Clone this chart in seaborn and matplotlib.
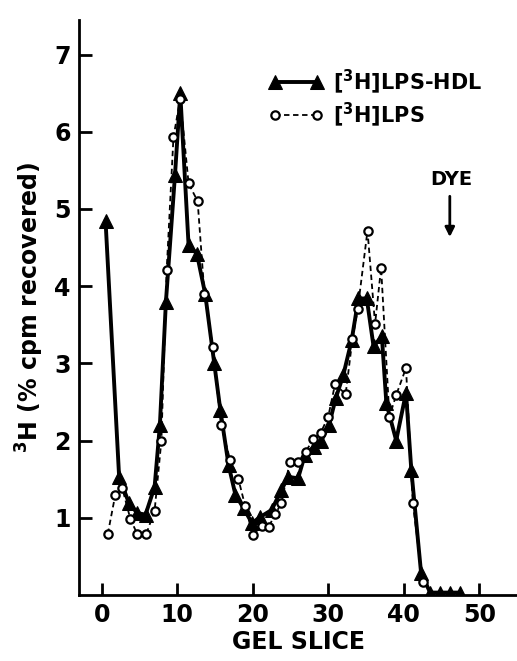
import matplotlib
matplotlib.use("Agg")
import matplotlib.pyplot as plt
import seaborn as sns
import pandas as pd

# [3H]LPS-HDL (filled triangles, solid line)
hdl_slice = [0.5, 2.3, 3.6, 4.7, 5.8, 7.0, 7.7, 8.5, 9.7, 10.4, 11.5, 12.6, 13.7, 14.9,
             15.7, 16.8, 17.7, 18.8, 19.9, 21.0, 22.5, 23.8, 24.7, 26.0, 26.9, 28.1,
             29.1, 30.1, 31.0, 32.0, 33.1, 34.0, 35.1, 36.0, 37.1, 37.7, 39.0, 40.3,
             41.0, 42.3, 43.5, 44.8, 46.1, 47.4]
hdl_pct = [4.85, 1.53, 1.19, 1.06, 1.04, 1.40, 2.20, 3.80, 5.44, 6.50, 4.53, 4.42, 3.90, 3.00,
           2.40, 1.68, 1.30, 1.12, 0.93, 1.01, 1.10, 1.36, 1.53, 1.51, 1.81, 1.92,
           2.00, 2.20, 2.55, 2.85, 3.30, 3.84, 3.84, 3.22, 3.35, 2.48, 2.00, 2.62,
           1.62, 0.28, 0.03, 0.03, 0.03, 0.03]

# [3H]LPS (open circles, dashed line)
lps_slice = [0.8, 1.8, 2.7, 3.8, 4.7, 5.9, 7.0, 7.9, 8.6, 9.5, 10.4, 11.5, 12.7, 13.6,
             14.7, 15.8, 17.0, 18.1, 19.0, 20.0, 21.2, 22.1, 23.0, 23.8, 24.9, 26.0,
             27.0, 28.0, 29.0, 30.0, 30.9, 32.3, 33.2, 33.9, 35.2, 36.2, 37.0, 38.1,
             39.0, 40.3, 41.2, 42.5]
lps_pct = [0.79, 1.30, 1.39, 0.98, 0.79, 0.79, 1.09, 2.00, 4.21, 5.93, 6.43, 5.33, 5.10, 3.90,
           3.21, 2.20, 1.75, 1.50, 1.15, 0.78, 0.89, 0.88, 1.05, 1.19, 1.72, 1.72,
           1.85, 2.02, 2.10, 2.31, 2.73, 2.60, 3.31, 3.70, 4.72, 3.51, 4.24, 2.31,
           2.59, 2.94, 1.19, 0.17]

x_ticks = [0, 10, 20, 30, 40, 50]
y_ticks = [1, 2, 3, 4, 5, 6, 7]

hdl = pd.DataFrame({"slice": hdl_slice, "pct": hdl_pct})
lps = pd.DataFrame({"slice": lps_slice, "pct": lps_pct})

sns.set_style("ticks")
plt.rcParams["font.family"] = ["DejaVu Sans"]
plt.rcParams["font.weight"] = "bold"
for key in ["text.color", "axes.labelcolor", "xtick.color", "ytick.color", "axes.edgecolor"]:
    plt.rcParams[key] = "black"

fig = plt.figure(figsize=(5.17, 6.61), dpi=100)
ax = fig.add_axes([0.153, 0.10, 0.847, 0.87])

sns.lineplot(data=lps, x="slice", y="pct", ax=ax, sort=False, estimator=None,
             color="black", linewidth=1.3, linestyle=(0, (3, 2)), marker="o",
             markersize=6, markerfacecolor="white", markeredgecolor="black",
             markeredgewidth=1.6, label="[$^{3}$H]LPS", zorder=3)
sns.lineplot(data=hdl, x="slice", y="pct", ax=ax, sort=False, estimator=None,
             color="black", linewidth=2.8, marker="^", markersize=9.5,
             markeredgecolor="black", label="[$^{3}$H]LPS-HDL", zorder=2)

ax.set_xlim(-3.0, 55.0)
ax.set_ylim(0, 7.45)
ax.set_xticks(x_ticks)
ax.set_yticks(y_ticks)
ax.tick_params(direction="in", length=9, width=2, labelsize=17, pad=6)
for s in ["top", "right"]:
    ax.spines[s].set_visible(False)
for s in ["left", "bottom"]:
    ax.spines[s].set_linewidth(2)

ax.set_xlabel("GEL SLICE", fontsize=17, fontweight="bold", labelpad=2)
ax.set_ylabel("$^{3}$H (% cpm recovered)", fontsize=17, fontweight="bold", labelpad=6)

# legend: triangles first, circles second
handles, labels = ax.get_legend_handles_labels()
leg = ax.legend(handles[::-1], labels[::-1], loc="upper left",
                bbox_to_anchor=(0.39, 0.95), frameon=False, numpoints=2,
                handlelength=2.6, handletextpad=0.5, labelspacing=0.2,
                prop={"size": 15, "weight": "bold"})

# dye front marker
ax.text(46.3, 5.38, "DYE", fontsize=14, fontweight="bold", ha="center", va="center")
ax.annotate("", xy=(46.1, 4.6), xytext=(46.1, 5.2),
            arrowprops=dict(arrowstyle="-|>", color="black", lw=2, mutation_scale=14))

plt.savefig("out.png", dpi=100)
